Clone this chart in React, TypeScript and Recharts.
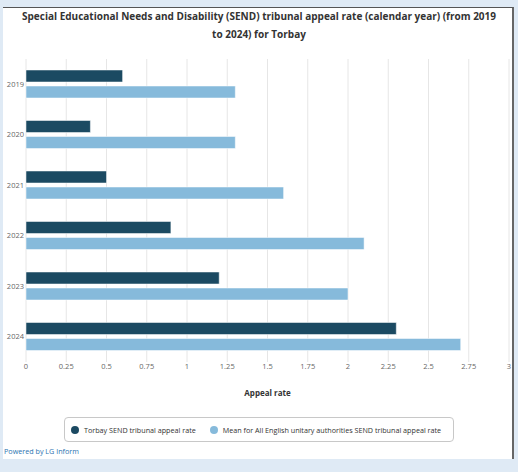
import { Bar, BarChart, CartesianGrid, XAxis, YAxis } from 'recharts'

const years = ['2019', '2020', '2021', '2022', '2023', '2024']
const torbayRate = [0.6, 0.4, 0.5, 0.9, 1.2, 2.3]
const englishMeanRate = [1.3, 1.3, 1.6, 2.1, 2.0, 2.7]
const rateTicks = [0, 0.25, 0.5, 0.75, 1, 1.25, 1.5, 1.75, 2, 2.25, 2.5, 2.75, 3]

const TORBAY = '#1b4a62'
const MEAN = '#86badb'
const FONT = '"Open Sans", "DejaVu Sans", sans-serif'

const seriesNames = {
  torbay: 'Torbay SEND tribunal appeal rate',
  mean: 'Mean for All English unitary authorities SEND tribunal appeal rate',
}

const data = years.map((year, i) => ({
  year,
  torbay: torbayRate[i],
  mean: englishMeanRate[i],
}))

function LegendDot({ color }: { color: string }) {
  return (
    <span
      style={{
        display: 'inline-block',
        flexShrink: 0,
        width: 8,
        height: 8,
        borderRadius: 4,
        background: color,
        marginRight: 5,
      }}
    />
  )
}

export default function App() {
  return (
    <div
      style={{
        position: 'fixed',
        left: 0,
        top: 0,
        width: 518,
        height: 472,
        background: '#dfeaf5',
        fontFamily: FONT,
        overflow: 'hidden',
      }}
    >
      {/* white card */}
      <div
        style={{
          position: 'absolute',
          left: 3,
          top: 7,
          width: 509,
          height: 451,
          background: '#fff',
          borderTop: '1px solid #555',
          borderRight: '2px solid #666',
        }}
      />
      <div
        style={{
          position: 'absolute',
          left: 18,
          top: 7,
          width: 482,
          textAlign: 'center',
          fontWeight: 700,
          fontSize: 10,
          lineHeight: '18px',
          color: '#333',
        }}
      >
        Special Educational Needs and Disability (SEND) tribunal appeal rate
        (calendar year) (from 2019 to 2024) for Torbay
      </div>
      <div style={{ position: 'absolute', left: 0, top: 0 }}>
        <BarChart
          width={518}
          height={410}
          data={data}
          layout="vertical"
          margin={{ top: 59, right: 9, bottom: 0, left: 0 }}
          barSize={12}
          barGap={4}
        >
          <CartesianGrid horizontal={false} stroke="#e6e6e6" />
          <XAxis
            type="number"
            domain={[0, 3]}
            ticks={rateTicks}
            tickFormatter={(v: number) => String(v)}
            tickLine={false}
            axisLine={false}
            tickSize={0}
            tickMargin={2}
            height={48}
            interval={0}
            tick={{ fontSize: 7.5, fill: '#666', fontFamily: FONT }}
            label={{
              value: 'Appeal rate',
              position: 'insideBottom',
              offset: 14,
              style: { fontSize: 8, fontWeight: 700, fill: '#333', fontFamily: FONT },
            }}
          />
          <YAxis
            type="category"
            dataKey="year"
            width={26}
            tickLine={false}
            axisLine={false}
            tickSize={0}
            tickMargin={2}
            tick={{ fontSize: 7.5, fill: '#666', fontFamily: FONT }}
          />
          <Bar
            dataKey="torbay"
            name={seriesNames.torbay}
            fill={TORBAY}
            stroke="#fff"
            strokeWidth={0.5}
            isAnimationActive={false}
          />
          <Bar
            dataKey="mean"
            name={seriesNames.mean}
            fill={MEAN}
            stroke="#fff"
            strokeWidth={0.5}
            isAnimationActive={false}
          />
        </BarChart>
      </div>
      {/* legend */}
      <div
        style={{
          position: 'absolute',
          left: 64,
          top: 417,
          width: 390,
          height: 25,
          border: '1px solid #c8c8c8',
          borderRadius: 4,
          display: 'flex',
          alignItems: 'center',
          paddingLeft: 6,
          boxSizing: 'border-box',
          fontSize: 7.2,
          color: '#333',
          whiteSpace: 'nowrap',
        }}
      >
        <LegendDot color={TORBAY} />
        <span style={{ marginRight: 14 }}>{seriesNames.torbay}</span>
        <LegendDot color={MEAN} />
        <span>{seriesNames.mean}</span>
      </div>
      <div
        style={{
          position: 'absolute',
          left: 4,
          top: 446,
          fontSize: 7.2,
          color: '#2a73b0',
        }}
      >
        Powered by LG Inform
      </div>
    </div>
  )
}
